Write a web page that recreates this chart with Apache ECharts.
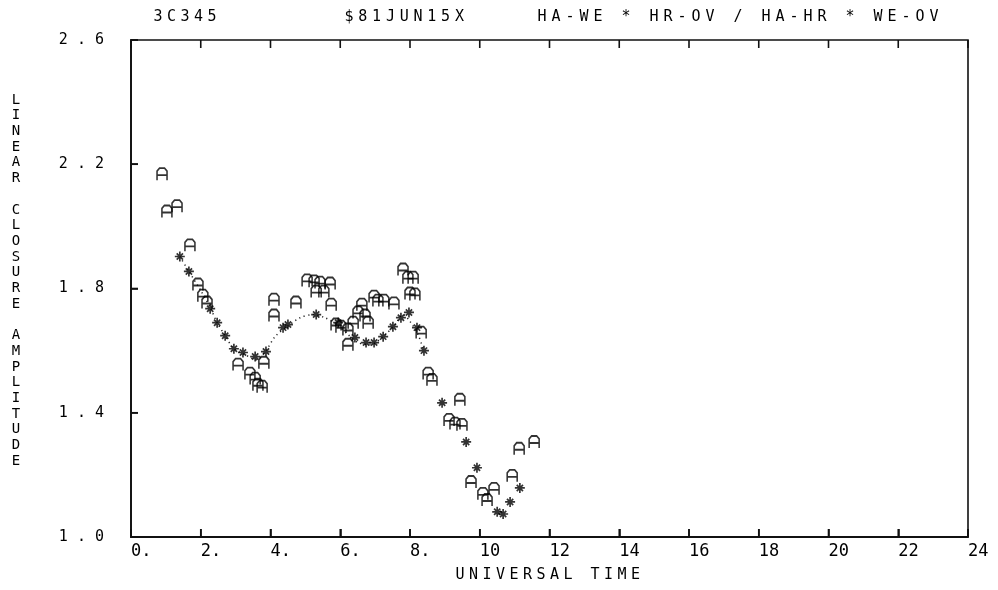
<!DOCTYPE html>
<html>
<head>
<meta charset="utf-8">
<script src="https://cdn.jsdelivr.net/npm/echarts@6/dist/echarts.min.js"></script>
<style>
html, body { margin: 0; padding: 0; background: #fff; }
#chart { width: 998px; height: 590px; }
</style>
</head>
<body>
<div id="chart"></div>
<script>
// Measured closure amplitudes ("A" marks)
const aTime = [0.89, 1.03, 1.32, 1.69, 1.92, 2.06, 2.18, 3.07, 3.41, 3.56, 3.64, 3.76, 3.81,
  4.10, 4.10, 4.73, 5.05, 5.25, 5.42, 5.71, 5.31, 5.53, 5.74, 5.88, 6.02, 6.22, 6.22, 6.37,
  6.51, 6.62, 6.71, 6.80, 6.97, 7.08, 7.25, 7.54, 7.80, 7.94, 8.09, 8.00, 8.14, 8.32, 8.52,
  8.63, 9.12, 9.29, 9.43, 9.49, 9.75, 10.09, 10.21, 10.41, 10.93, 11.13, 11.56];
const aValue = [2.168, 2.048, 2.065, 1.939, 1.813, 1.777, 1.755, 1.555, 1.526, 1.510, 1.490, 1.484, 1.561,
  1.764, 1.713, 1.755, 1.826, 1.823, 1.819, 1.816, 1.790, 1.790, 1.748, 1.684, 1.677, 1.668, 1.619, 1.690,
  1.723, 1.748, 1.713, 1.690, 1.774, 1.761, 1.761, 1.752, 1.861, 1.835, 1.835, 1.784, 1.781, 1.658, 1.526,
  1.506, 1.377, 1.365, 1.442, 1.361, 1.177, 1.139, 1.119, 1.155, 1.197, 1.284, 1.306];

// Model values ("*" marks)
const starTime = [1.40, 1.66, 2.27, 2.47, 2.70, 2.95, 3.21, 3.56, 3.87, 4.36, 4.50, 5.31, 5.94, 6.42,
  6.74, 6.97, 7.23, 7.51, 7.74, 7.97, 8.20, 8.40, 8.92, 9.61, 9.92, 10.50, 10.67, 10.87, 11.15];
const starValue = [1.903, 1.855, 1.735, 1.690, 1.648, 1.606, 1.594, 1.581, 1.597, 1.674, 1.684, 1.716, 1.690, 1.642,
  1.626, 1.626, 1.645, 1.677, 1.706, 1.723, 1.674, 1.600, 1.432, 1.306, 1.223, 1.081, 1.074, 1.113, 1.158];

// Dotted model track
const curveTime = [1.40, 1.66, 1.98, 2.27, 2.47, 2.70, 2.95, 3.27, 3.58, 3.87, 4.13, 4.47, 4.85, 5.22,
  5.56, 5.91, 6.22, 6.51, 6.85, 7.23, 7.57, 7.80, 8.00, 8.23, 8.40];
const curveValue = [1.903, 1.855, 1.797, 1.739, 1.690, 1.648, 1.606, 1.587, 1.571, 1.600, 1.645, 1.677, 1.706, 1.716,
  1.706, 1.684, 1.652, 1.626, 1.619, 1.645, 1.684, 1.716, 1.694, 1.652, 1.597];

// Axis ranges and tick values
const xMin = 0, xMax = 24, xStep = 2;
const yMin = 1.0, yMax = 2.6, yStep = 0.4;
const xTicks = [0, 2, 4, 6, 8, 10, 12, 14, 16, 18, 20, 22, 24];
const yTicks = [1.0, 1.4, 1.8, 2.2, 2.6];

const titleLeft = '3C345';
const titleMid = '$81JUN15X';
const titleRight = 'HA-WE * HR-OV / HA-HR * WE-OV';
const yName = 'LINEAR CLOSURE AMPLITUDE';
const xName = 'UNIVERSAL TIME';

const MONO = '"DejaVu Sans Mono", "Liberation Mono", monospace';
const INK = '#000';

// Fixed-pitch plotter lettering, one glyph per cell
function row(str, x0, y, pitch, size) {
  return str.split('').map((ch, i) => ({
    type: 'text', x: x0 + i * pitch, y: y, silent: true,
    style: { text: ch, font: size + 'px ' + MONO, fill: INK, align: 'center', verticalAlign: 'middle' }
  }));
}
function column(str, x, y0, pitch, size) {
  return str.split('').map((ch, i) => ({
    type: 'text', x: x, y: y0 + i * pitch, silent: true,
    style: { text: ch, font: size + 'px ' + MONO, fill: INK, align: 'center', verticalAlign: 'middle' }
  }));
}

const glyphA = 'path://M0,12L0,3L2,0L6,0L8,3L8,12M0,7L8,7';
const glyphStar = 'path://M0,4L8,4M4,0L4,8M1.5,1.5L6.5,6.5M1.5,6.5L6.5,1.5';

const TICK_LEN = 8;

// Inward tick marks: bottom and top edges for time, left edge for amplitude
function renderXTick(params, api) {
  const b = api.coord([api.value(0), yMin]);
  const t = api.coord([api.value(0), yMax]);
  return {
    type: 'group',
    children: [
      { type: 'line', shape: { x1: b[0], y1: b[1], x2: b[0], y2: b[1] - TICK_LEN },
        style: { stroke: '#111', lineWidth: 1.6, fill: null } },
      { type: 'line', shape: { x1: t[0], y1: t[1], x2: t[0], y2: t[1] + TICK_LEN },
        style: { stroke: '#111', lineWidth: 1.6, fill: null } }
    ]
  };
}
function renderYTick(params, api) {
  const l = api.coord([xMin, api.value(1)]);
  return { type: 'line', shape: { x1: l[0], y1: l[1], x2: l[0] + TICK_LEN - 1, y2: l[1] },
    style: { stroke: '#111', lineWidth: 1.6, fill: null } };
}

const chart = echarts.init(document.getElementById('chart'));
chart.setOption({
  animation: false,
  backgroundColor: '#fff',
  grid: { left: 131, right: 30, top: 40, bottom: 53, show: true, borderColor: '#111', borderWidth: 1.6 },
  xAxis: {
    type: 'value', min: xMin, max: xMax, interval: xStep,
    axisLine: { show: true, onZero: false, lineStyle: { color: '#111', width: 1.8 } },
    axisTick: { show: true, inside: true, length: TICK_LEN, lineStyle: { color: '#111', width: 1.6 } },
    axisLabel: {
      show: true, margin: 6, align: 'left', color: INK, fontFamily: MONO, fontSize: 17,
      formatter: v => (v < 10 ? v + '.' : String(v))
    },
    splitLine: { show: false }
  },
  yAxis: {
    type: 'value', min: yMin, max: yMax, interval: yStep,
    axisLine: { show: true, onZero: false, lineStyle: { color: '#111', width: 1.8 } },
    axisTick: { show: true, inside: true, length: TICK_LEN - 1, lineStyle: { color: '#111', width: 1.6 } },
    axisLabel: {
      show: true, margin: 27, color: INK, fontFamily: MONO, fontSize: 15,
      formatter: v => v.toFixed(1).split('').join(' ')
    },
    splitLine: { show: false }
  },
  graphic: [].concat(
    row(titleLeft, 158, 17, 13.5, 15),
    row(titleMid, 349, 17, 13.8, 15),
    row(titleRight, 542, 17, 14, 15),
    column(yName, 16, 100, 15.7, 14),
    row(xName, 460, 575, 13.5, 15)
  ),
  series: [{
    type: 'custom', renderItem: renderXTick, clip: false, silent: true,
    data: xTicks.map(v => [v, yMin]), z: 5
  }, {
    type: 'custom', renderItem: renderYTick, clip: false, silent: true,
    data: yTicks.map(v => [xMin, v]), z: 5
  }, {
    type: 'line',
    data: curveTime.map((t, i) => [t, curveValue[i]]),
    showSymbol: false, symbol: 'none', smooth: 0.3,
    lineStyle: { color: '#222', width: 1.5, type: [1.2, 3.5] },
    silent: true, z: 1
  }, {
    type: 'scatter',
    data: starTime.map((t, i) => [t, starValue[i]]),
    symbol: glyphStar, symbolSize: [10, 10],
    itemStyle: { color: 'rgba(0,0,0,0)', borderColor: INK, borderWidth: 1.7 },
    z: 2
  }, {
    type: 'scatter',
    data: aTime.map((t, i) => [t, aValue[i]]),
    symbol: glyphA, symbolSize: [10, 12],
    itemStyle: { color: 'rgba(0,0,0,0)', borderColor: INK, borderWidth: 1.7 },
    z: 3
  }]
});
</script>
</body>
</html>
